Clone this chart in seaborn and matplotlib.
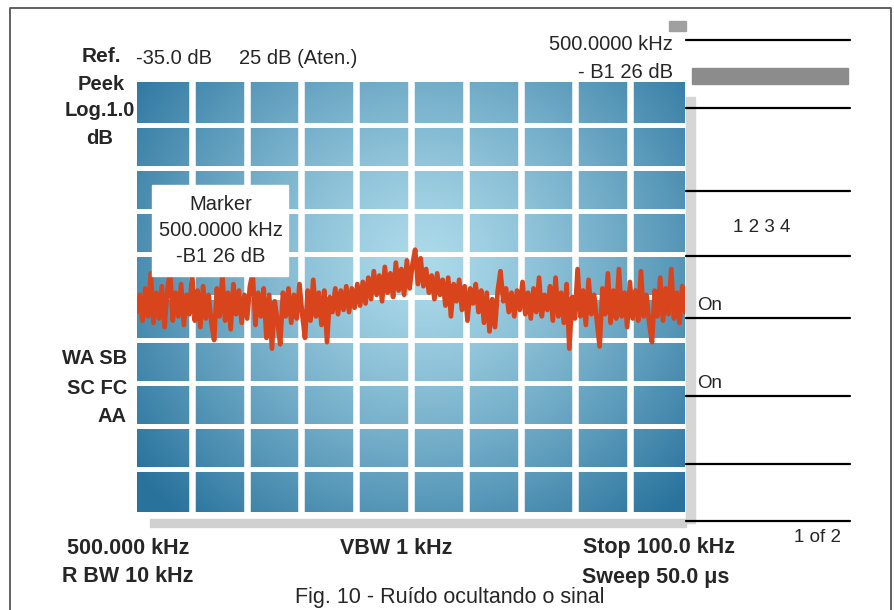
import numpy as np
import pandas as pd
import seaborn as sns
import matplotlib.pyplot as plt
from matplotlib import font_manager
from matplotlib.patches import Rectangle

# screen settings
ref_level = -35.0   # dB, top of the graticule
n_div = 10          # divisions, 1 dB each

# noise trace in dB from left to right
trace_left = [-40.35, -39.95, -40.55, -39.80, -40.45, -39.45, -40.60, -39.90, -40.50, -39.75,
              -40.70, -39.85, -39.40, -40.55, -39.90, -40.45, -39.70, -40.65, -39.95, -40.40,
              -39.45, -40.55, -39.85, -40.70, -39.75, -40.50, -39.95, -40.60, -41.00, -39.80,
              -40.45, -39.50, -40.55, -39.90, -40.75, -39.70, -40.40, -39.85, -40.60, -39.95,
              -40.50, -39.75, -39.45, -40.65, -39.90, -40.45, -39.80, -40.95, -39.95]
trace_midleft = [-41.20, -40.10, -40.55, -41.10, -39.90, -40.45, -39.80, -40.60, -39.95, -40.50,
                 -39.70, -40.40, -40.95, -39.85, -40.55, -39.60, -40.45, -39.90, -40.65, -39.85,
                 -41.05, -40.00, -40.35, -39.80, -40.40, -39.85, -40.30, -39.75, -40.35, -39.80,
                 -40.25, -39.70, -40.20]
trace_hump = [-39.65, -40.15, -39.55, -40.05, -39.40, -39.95, -39.50, -40.10, -39.30, -39.90,
              -39.45, -40.00, -39.20, -39.85, -39.35, -39.95, -39.15, -39.80, -39.25, -38.90,
              -39.70, -39.10]
trace_fall = [-39.75, -39.35, -39.90, -39.50, -40.05, -39.45, -39.95, -39.60, -40.20, -39.55,
              -40.45, -39.70, -40.10, -39.60, -40.30, -39.75, -40.55, -39.80, -40.15, -39.70,
              -40.35, -39.85, -40.60, -39.90, -40.80, -40.05, -40.70, -39.85, -39.40]
trace_midright = [-40.10, -39.80, -40.35, -39.90, -40.45, -39.85, -40.30, -39.65, -40.40, -39.90,
                  -40.50, -39.80, -40.35, -39.55, -40.45, -39.95, -40.30]
trace_right = [-39.75, -40.55, -39.55, -40.45, -39.90, -40.60, -39.70, -41.20, -40.00, -40.50,
               -39.35, -40.45, -39.85, -40.65, -39.60, -40.40, -39.95, -40.55, -41.15, -39.80,
               -40.40, -39.45, -40.60, -39.85, -40.50, -39.35, -40.45, -39.90, -40.70, -39.65,
               -40.50, -39.85, -40.55, -39.40, -40.45, -39.95, -40.60, -41.05, -39.85, -40.45,
               -39.55, -40.55, -39.80, -40.40, -39.35, -40.50, -39.90, -40.60, -39.75, -40.35]
trace = trace_left + trace_midleft + trace_hump + trace_fall + trace_midright + trace_right

# screen annotations
left_labels = ["Ref.", "Peek", "Log.1.0", "dB"]
mode_labels = ["WA SB", "SC FC", "AA"]
marker_lines = ["Marker", "500.0000 kHz", "-B1 26 dB"]
top_labels = ["-35.0 dB", "25 dB (Aten.)"]
marker_top = ["500.0000 kHz", "- B1 26 dB"]
bottom_left = ["500.000 kHz", "R BW 10 kHz"]
bottom_mid = "VBW 1 kHz"
bottom_right = ["Stop 100.0 kHz", "Sweep 50.0 \u03bcs"]
softkeys = ["1 2 3 4", "On", "On", "1 of 2"]
caption = "Fig. 10 - Ru\u00eddo ocultando o sinal"

sns.set_theme(style="white", rc={"axes.facecolor": "white", "figure.facecolor": "white"})
plt.rcParams['font.family'] = ['Liberation Sans', 'DejaVu Sans']
names = {f.name for f in font_manager.fontManager.ttflist}
narrow = 'Liberation Sans Narrow' if 'Liberation Sans Narrow' in names else 'Liberation Sans'

W, H = 894, 610
fig = plt.figure(figsize=(W / 100, H / 100), dpi=100)

# graticule
ax = fig.add_axes([137 / W, 1 - 512 / H, 548 / W, 430 / H])
gx, gy = np.meshgrid(np.linspace(0, 1, 400), np.linspace(0, 1, 300))
r = np.sqrt(((gx - 0.52) / 0.66) ** 2 + ((gy - 0.42) / 0.80) ** 2)
t = np.clip(r, 0, 1)[..., None] ** 1.3
dark = np.array([40, 114, 156]) / 255
light = np.array([172, 218, 234]) / 255
ax.imshow(light * (1 - t) + dark * t, extent=(0, n_div, ref_level - n_div, ref_level),
          aspect='auto', origin='upper', zorder=0)
for k in range(1, n_div):
    ax.axvline(k, color='white', lw=4.7, zorder=1)
    ax.axhline(ref_level - k, color='white', lw=3.6, zorder=1)

df = pd.DataFrame({'pos': np.linspace(0, n_div, len(trace)), 'level': trace})
sns.lineplot(data=df, x='pos', y='level', color='#d8451c', lw=3.4, sort=False, ax=ax, zorder=3)
ax.set_xlim(0, n_div)
ax.set_ylim(ref_level - n_div, ref_level)
ax.axis('off')

# everything around the graticule, in pixel coordinates
dx = fig.add_axes([0, 0, 1, 1], zorder=5)
dx.set_xlim(0, W)
dx.set_ylim(H, 0)
dx.axis('off')
dx.patch.set_alpha(0)

dx.plot([10, 10, 891, 891], [615, 8, 8, 615], color='#555555', lw=1.3)

for y in [40, 108, 191, 256, 318, 396, 464, 521]:
    dx.plot([686, 850], [y, y], color='black', lw=1.6)
dx.add_patch(Rectangle((692, 68), 156, 16, color='#8c8c8c'))
dx.add_patch(Rectangle((669, 21), 17, 10, color='#a0a0a0'))
dx.add_patch(Rectangle((686, 97), 9, 426, color='#d6d6d6'))
dx.add_patch(Rectangle((150, 519), 536, 8, color='#d0d0d0'))
dx.add_patch(Rectangle((152, 185), 136, 91, color='white'))

fs = 14.5
dx.text(101, 57, left_labels[0], ha='center', va='center', fontsize=fs + 0.5, weight='bold')
dx.text(101, 84, left_labels[1], ha='center', va='center', fontsize=fs, weight='bold')
dx.text(135, 111, left_labels[2], ha='right', va='center', fontsize=fs, weight='bold')
dx.text(100, 138, left_labels[3], ha='center', va='center', fontsize=fs, weight='bold')
for y, s in zip([358, 388, 416], mode_labels):
    dx.text(127, y, s, ha='right', va='center', fontsize=fs, weight='bold')

dx.text(136, 59, top_labels[0], ha='left', va='center', fontsize=fs)
dx.text(239, 59, top_labels[1], ha='left', va='center', fontsize=fs)
dx.text(673, 44, marker_top[0], ha='right', va='center', fontsize=fs)
dx.text(673, 72, marker_top[1], ha='right', va='center', fontsize=fs)

for y, s in zip([204, 231, 256], marker_lines):
    dx.text(221, y, s, ha='center', va='center', fontsize=fs)

dx.text(762, 228, softkeys[0], ha='center', va='center', fontsize=fs - 1)
dx.text(697, 306, softkeys[1], ha='left', va='center', fontsize=fs - 1)
dx.text(697, 383, softkeys[2], ha='left', va='center', fontsize=fs - 1)
dx.text(818, 538, softkeys[3], ha='center', va='center', fontsize=fs - 1)

dx.text(128, 548, bottom_left[0], ha='center', va='center', fontsize=fs + 1, family=narrow, weight='bold')
dx.text(128, 576, bottom_left[1], ha='center', va='center', fontsize=fs + 1, family=narrow, weight='bold')
dx.text(396, 548, bottom_mid, ha='center', va='center', fontsize=fs + 1, family=narrow, weight='bold')
dx.text(659, 548, bottom_right[0], ha='center', va='center', fontsize=fs + 1, family=narrow, weight='bold')
dx.text(656, 577, bottom_right[1], ha='center', va='center', fontsize=fs + 1, family=narrow, weight='bold')
dx.text(450, 598, caption, ha='center', va='center', fontsize=fs + 1, family=narrow)

fig.savefig('out.png', dpi=100)
